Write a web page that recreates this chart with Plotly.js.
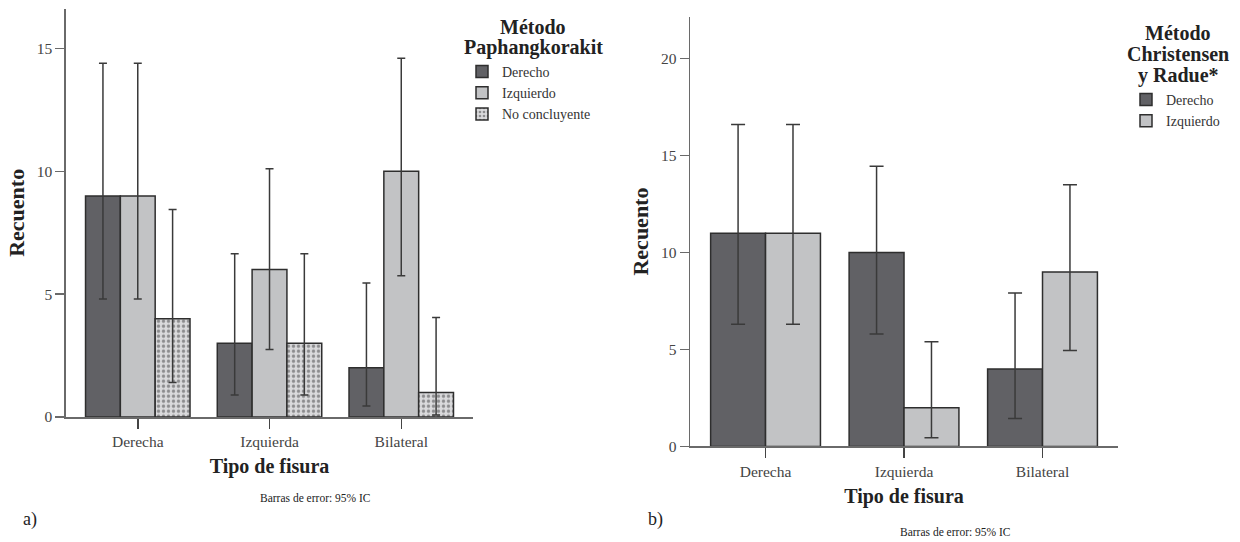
<!DOCTYPE html>
<html>
<head>
<meta charset="utf-8">
<script src="https://cdn.plot.ly/plotly-3.0.1.min.js"></script>
<style>html,body{margin:0;padding:0;background:#fff}#chart{width:1240px;height:542px}</style>
</head>
<body>
<div id="chart"></div>
<script>
// ---- data ----
const categories = ['Derecha', 'Izquierda', 'Bilateral'];

// Panel a) Método Paphangkorakit
const aDerecho = [9, 3, 2];
const aDerechoHi = [14.4, 6.65, 5.45];
const aDerechoLo = [4.8, 0.9, 0.45];
const aIzquierdo = [9, 6, 10];
const aIzquierdoHi = [14.4, 10.1, 14.6];
const aIzquierdoLo = [4.8, 2.75, 5.75];
const aNoConcl = [4, 3, 1];
const aNoConclHi = [8.45, 6.65, 4.05];
const aNoConclLo = [1.4, 0.9, 0.08];

// Panel b) Método Christensen y Radue*
const bDerecho = [11, 10, 4];
const bDerechoHi = [16.6, 14.45, 7.92];
const bDerechoLo = [6.3, 5.8, 1.45];
const bIzquierdo = [11, 2, 9];
const bIzquierdoHi = [16.6, 5.4, 13.5];
const bIzquierdoLo = [6.3, 0.45, 4.95];

const legendNames = ['Derecho', 'Izquierdo', 'No concluyente'];
const legendTitleA = ['Método', 'Paphangkorakit'];
const legendTitleB = ['Método', 'Christensen', 'y Radue*'];
const yTicksA = [0, 5, 10, 15];
const yTicksB = [0, 5, 10, 15, 20];

// ---- styles ----
const SERIF = 'Liberation Serif';
const DARK = '#616165';
const LIGHT = '#c2c3c5';
const OUT = '#2e2e2e';
const ERR = '#3a3a3a';

function err(v, hi, lo, w) {
  return {type: 'data', symmetric: false,
    array: v.map((d, i) => hi[i] - d),
    arrayminus: v.map((d, i) => d - lo[i]),
    color: ERR, thickness: 1.5, width: w};
}
function bar(name, v, hi, lo, color, xa, ya, leg, w, pattern) {
  const m = {color: color, line: {color: OUT, width: 1.5}};
  if (pattern) m.pattern = pattern;
  return {type: 'bar', name: name, x: categories, y: v, xaxis: xa, yaxis: ya,
    legend: leg, marker: m, error_y: err(v, hi, lo, w), hoverinfo: 'x+y'};
}
const dots = {shape: '.', bgcolor: '#dadadc', fgcolor: '#8c8c8e', size: 5, solidity: 0.35};

const data = [
  bar(legendNames[0], aDerecho, aDerechoHi, aDerechoLo, DARK, 'x', 'y', 'legend', 4),
  bar(legendNames[1], aIzquierdo, aIzquierdoHi, aIzquierdoLo, LIGHT, 'x', 'y', 'legend', 4),
  bar(legendNames[2], aNoConcl, aNoConclHi, aNoConclLo, '#dadadc', 'x', 'y', 'legend', 4, dots),
  bar(legendNames[0], bDerecho, bDerechoHi, bDerechoLo, DARK, 'x2', 'y2', 'legend2', 7),
  bar(legendNames[1], bIzquierdo, bIzquierdoHi, bIzquierdoLo, LIGHT, 'x2', 'y2', 'legend2', 7)
];

const tickFont = {family: SERIF, size: 15.5, color: '#444'};
const titleFont = {family: SERIF, size: 20, color: '#222', weight: 'bold'};
function xax(domain, anchor) {
  return {domain: domain, anchor: anchor, type: 'category', categoryorder: 'array',
    categoryarray: categories, range: [-0.545, 2.545], showgrid: false, zeroline: false,
    showline: true, linecolor: '#6a6a6a', linewidth: 1.5, ticks: 'outside', ticklen: 10,
    tickwidth: 1.5, tickcolor: '#444', tickfont: tickFont, fixedrange: true,
    title: {text: '<b>Tipo de fisura</b>', font: titleFont, standoff: 10}};
}
function yax(domain, anchor, range, tv) {
  return {domain: domain, anchor: anchor, range: range, tickvals: tv, showgrid: false,
    zeroline: false, showline: true, linecolor: '#6a6a6a', linewidth: 1.5, ticks: 'outside',
    ticklen: 9, tickwidth: 1.5, tickcolor: '#6a6a6a', tickfont: tickFont, fixedrange: true,
    title: {text: '<b>Recuento</b>', font: {family: SERIF, size: 22, color: '#222', weight: 'bold'}, standoff: 6}};
}
const legFont = {family: SERIF, size: 14, color: '#333'};

function ann(text, xpx, ypx, size, opts) {
  return Object.assign({text: text, xref: 'paper', yref: 'paper', x: xpx / 1240, y: 1 - ypx / 542,
    xanchor: 'center', yanchor: 'middle', showarrow: false,
    font: {family: SERIF, size: size, color: '#222'}}, opts || {});
}
const annotations = [
  ann('Barras de error: 95% IC', 315, 498, 11.5),
  ann('Barras de error: 95% IC', 955, 532, 11.5),
  ann('a)', 30, 519, 18),
  ann('b)', 655, 519, 18)
];
legendTitleA.forEach((t, i) => annotations.push(ann('<b>' + t + '</b>', 533, 27 + 20 * i, 20)));
legendTitleB.forEach((t, i) => annotations.push(ann('<b>' + t + '</b>', 1178, 33 + 21 * i, 20)));

const layout = {
  width: 1240, height: 542, margin: {l: 0, r: 0, t: 0, b: 0},
  paper_bgcolor: '#fff', plot_bgcolor: '#fff', showlegend: true,
  barmode: 'group', bargap: 0.207, bargroupgap: 0,
  xaxis: xax([0.0532, 0.3815], 'y'),
  yaxis: yax([0.2306, 0.984], 'x', [0, 16.62], yTicksA),
  xaxis2: xax([0.5565, 0.9016], 'y2'),
  yaxis2: yax([0.1762, 0.9694], 'x2', [0, 22.17], yTicksB),
  legend: {x: 462 / 1240, y: 1 - 56 / 542, xanchor: 'left', yanchor: 'top', bgcolor: 'rgba(0,0,0,0)',
    font: legFont, itemwidth: 30, tracegroupgap: 0},
  legend2: {x: 1126 / 1240, y: 1 - 84 / 542, xanchor: 'left', yanchor: 'top', bgcolor: 'rgba(0,0,0,0)',
    font: legFont, itemwidth: 30, tracegroupgap: 0},
  annotations: annotations
};

Plotly.newPlot('chart', data, layout, {displayModeBar: false, staticPlot: true});
</script>
</body>
</html>
